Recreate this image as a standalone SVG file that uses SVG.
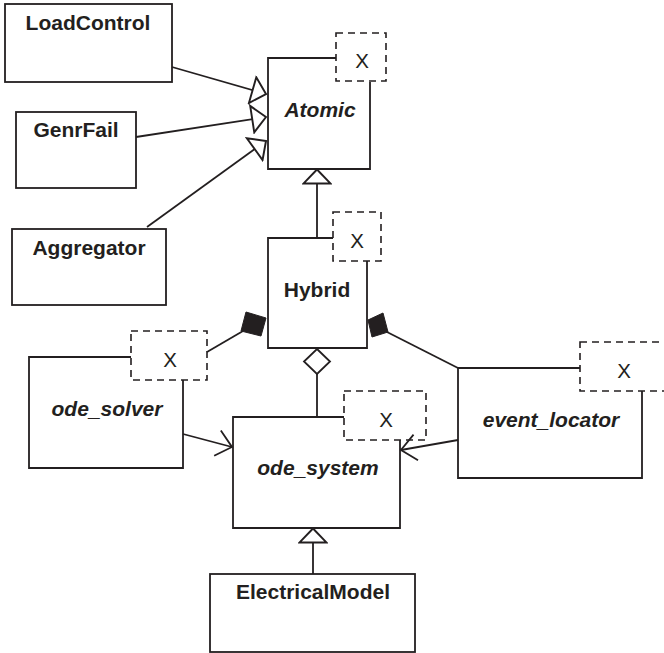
<svg xmlns="http://www.w3.org/2000/svg" width="664" height="653" viewBox="0 0 664 653">
<style>
.box{fill:none;stroke:#231f20;stroke-width:1.8}
.dash{fill:#fff;stroke:#231f20;stroke-width:1.6;stroke-dasharray:7,5}
.ln{fill:none;stroke:#231f20;stroke-width:1.8}
.t{font-family:"Liberation Sans",Arial,sans-serif;font-size:21px;font-weight:bold;fill:#231f20;text-anchor:middle}
.ti{font-style:italic}
.x{font-family:"Liberation Sans",Arial,sans-serif;font-size:20.5px;fill:#231f20;text-anchor:middle}
.fd{fill:#231f20;stroke:#231f20;stroke-width:1}
.od{fill:#fff;stroke:#231f20;stroke-width:1.8}
</style>
<defs>
<marker id="tri" markerUnits="userSpaceOnUse" markerWidth="30" markerHeight="30" viewBox="-16 -14 18 28" refX="0" refY="0" orient="auto">
<path d="M0,0 L-13,-12.5 L-13,12.5 Z" fill="#fff" stroke="#231f20" stroke-width="1.8" stroke-linejoin="miter"/>
</marker>
<marker id="vee" markerUnits="userSpaceOnUse" markerWidth="30" markerHeight="30" viewBox="-17 -15 19 30" refX="0" refY="0" orient="auto">
<path d="M-15,-13 L0,0 L-15,13" fill="none" stroke="#231f20" stroke-width="1.8"/>
</marker>
</defs>

<g id="LoadControl">
<rect class="box" x="5" y="4" width="167" height="78"/>
<text class="t" x="88" y="30">LoadControl</text>
</g>
<g id="GenrFail">
<rect class="box" x="16" y="112" width="120" height="76"/>
<text class="t" x="76" y="137">GenrFail</text>
</g>
<g id="Aggregator">
<rect class="box" x="12" y="229" width="154" height="76"/>
<text class="t" x="89" y="255">Aggregator</text>
</g>
<g id="Atomic">
<path class="box" d="M336,58 L268,58 L268,169 L370,169 L370,82"/>
<rect class="dash" x="336" y="33" width="50" height="48"/>
<text class="x" x="362" y="68">X</text>
<text class="t ti" x="320" y="117">Atomic</text>
</g>
<g id="Hybrid">
<path class="box" d="M333,238 L268,238 L268,348 L367,348 L367,261"/>
<rect class="dash" x="333" y="212" width="48" height="49"/>
<text class="x" x="357" y="248">X</text>
<text class="t" x="317" y="297">Hybrid</text>
</g>
<g id="ode_solver">
<path class="box" d="M131,357 L29,357 L29,468 L183,468 L183,380"/>
<rect class="dash" x="131" y="331" width="76" height="49"/>
<text class="x" x="170" y="367">X</text>
<text class="t ti" x="107" y="416">ode_solver</text>
</g>
<g id="ode_system">
<path class="box" d="M344,417 L233,417 L233,528 L400,528 L400,440"/>
<rect class="dash" x="344" y="391" width="82" height="49"/>
<text class="x" x="386" y="427">X</text>
<text class="t ti" x="318" y="475">ode_system</text>
</g>
<g id="event_locator">
<path class="box" d="M580,368 L458,368 L458,478 L642,478 L642,391"/>
<rect class="dash" x="580" y="342" width="92" height="49"/>
<text class="x" x="624" y="378">X</text>
<text class="t ti" x="551" y="427">event_locator</text>
</g>
<g id="ElectricalModel">
<rect class="box" x="210" y="574" width="205" height="78"/>
<text class="t" x="313" y="599">ElectricalModel</text>
</g>

<g id="connectors">
<line class="ln" x1="172" y1="67" x2="266" y2="94" marker-end="url(#tri)"/>
<line class="ln" x1="136" y1="137" x2="266" y2="117" marker-end="url(#tri)"/>
<line class="ln" x1="147" y1="227" x2="266" y2="141" marker-end="url(#tri)"/>
<line class="ln" x1="317" y1="238" x2="317" y2="169.5" marker-end="url(#tri)"/>
<line class="ln" x1="313" y1="574" x2="313" y2="528.5" marker-end="url(#tri)"/>
<line class="ln" x1="183" y1="434" x2="232" y2="447" marker-end="url(#vee)"/>
<line class="ln" x1="458" y1="440" x2="401" y2="450" marker-end="url(#vee)"/>
<line class="ln" x1="317" y1="374" x2="317" y2="417"/>
<polygon class="od" points="317,349 330,361.5 317,374 304,361.5"/>
<line class="ln" x1="207" y1="352" x2="243" y2="331"/>
<polygon class="fd" points="246,312 266,318 261,336 241,331"/>
<line class="ln" x1="387" y1="332" x2="458" y2="368"/>
<polygon class="fd" points="368,320 383,313 388,332 372,337"/>
</g>
</svg>
